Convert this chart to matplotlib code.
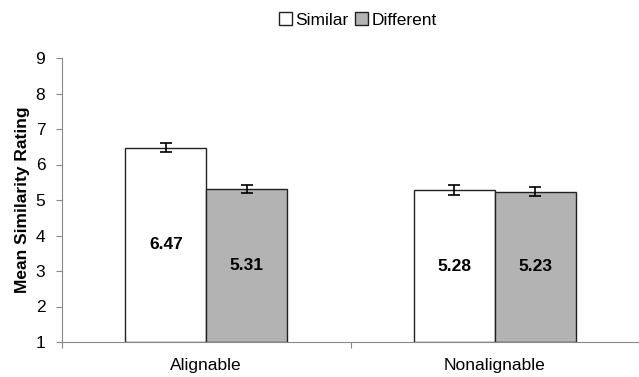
import matplotlib
matplotlib.use("Agg")
import matplotlib.pyplot as plt
import numpy as np

categories = ["Alignable", "Nonalignable"]
series = ["Similar", "Different"]
similar = [6.47, 5.28]
different = [5.31, 5.23]
similar_err = [0.13, 0.13]
different_err = [0.12, 0.13]
yticks = [1, 2, 3, 4, 5, 6, 7, 8, 9]

plt.rcParams['font.family'] = ['Liberation Sans', 'DejaVu Sans']
FS = 12.5
fig = plt.figure(figsize=(6.39, 3.77), dpi=100)
ax = fig.add_axes([62/639, (377-342)/377, 1 - 62/639, (342-58)/377])

x = np.arange(len(categories))
w = 0.28
b1 = ax.bar(x - w/2, np.array(similar) - 1, w, bottom=1, color="white", edgecolor="#222222", linewidth=1.0, label=series[0])
b2 = ax.bar(x + w/2, np.array(different) - 1, w, bottom=1, color="#b3b3b3", edgecolor="#222222", linewidth=1.0, label=series[1])
ax.errorbar(x - w/2, similar, yerr=similar_err, fmt="none", ecolor="black", capsize=4, elinewidth=1.2, capthick=1.2)
ax.errorbar(x + w/2, different, yerr=different_err, fmt="none", ecolor="black", capsize=4, elinewidth=1.2, capthick=1.2)

for xi, v in zip(x - w/2, similar):
    ax.text(xi, (1 + v) / 2, f"{v:.2f}", ha="center", va="center", fontsize=FS, fontweight="bold")
for xi, v in zip(x + w/2, different):
    ax.text(xi, (1 + v) / 2, f"{v:.2f}", ha="center", va="center", fontsize=FS, fontweight="bold")

ax.set_ylim(1, 9)
ax.set_yticks(yticks)
ax.set_xlim(-0.492, (639 - 211) / 299)
ax.set_xticks([-0.5, 0.5, 1.5])
ax.set_xticklabels([])
for xi, c in zip(x, categories):
    ax.text(xi, -0.058, c, transform=ax.get_xaxis_transform(), ha="center", va="top", fontsize=FS)
ax.tick_params(axis="y", direction="out", length=4, color="#888888", labelsize=FS, pad=8)
ax.tick_params(axis="x", direction="out", length=4, color="#888888")
for s in ["top", "right"]:
    ax.spines[s].set_visible(False)
ax.spines["left"].set_color("#888888")
ax.spines["bottom"].set_color("#888888")
ax.set_ylabel("Mean Similarity Rating", fontsize=FS, fontweight="bold", labelpad=4)

fig.legend(handles=[b1, b2], labels=series, loc="center", bbox_to_anchor=(358/639, 1 - 20/377),
           ncol=2, frameon=False, fontsize=FS, handlelength=0.75, handleheight=0.75,
           handletextpad=0.2, columnspacing=0.4)

fig.savefig("out.png", dpi=100)
